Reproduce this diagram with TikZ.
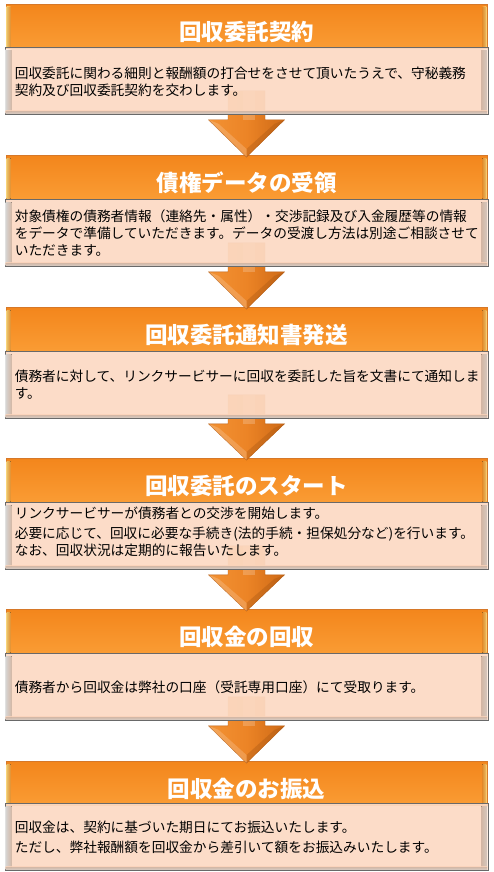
\documentclass[tikz,border=0pt]{standalone}
\usepackage{fontspec}
\setmainfont{Noto Sans CJK JP}
\usetikzlibrary{calc}
\definecolor{hdrA}{RGB}{243,134,28}
\definecolor{hdrB}{RGB}{250,156,52}
\definecolor{hdrEdge}{RGB}{214,120,40}
\definecolor{bevelY}{RGB}{255,214,120}
\definecolor{boxFill}{RGB}{252,218,196}
\definecolor{boxEdge}{RGB}{105,105,105}
\definecolor{arrL}{RGB}{242,146,52}
\definecolor{arrM}{RGB}{236,132,38}
\definecolor{arrR}{RGB}{206,106,22}
\tikzset{
  hdrbox/.style={draw=hdrEdge, line width=0.8pt, top color=hdrA, bottom color=hdrB,
    minimum width=481pt, minimum height=44pt, inner sep=0pt, anchor=north},
  bodybox/.style={draw=boxEdge, line width=0.8pt, fill=boxFill,
    minimum width=483pt, minimum height=67pt, inner sep=0pt, anchor=north},
  ttl/.style={text=white, font=\bfseries\fontsize{22.5}{25}\selectfont, inner sep=0pt},
  bodytxt/.style={font=\fontsize{13.7}{17}\selectfont, text=black, align=left,
    text width=478pt, inner sep=0pt, anchor=west},
  downarrow/.style={left color=arrL, right color=arrR, middle color=arrM, draw=arrR!90!black, line width=0.4pt},
}
\newcommand{\hdrbevel}[1]{%
  \fill[left color=bevelY, right color=hdrB, opacity=0.9]
    ($(#1.north west)+(1,3)$) rectangle ($(#1.south west)+(5,-1)$);
  \fill[right color=bevelY, left color=hdrB, opacity=0.9]
    ($(#1.north east)+(-5,3)$) rectangle ($(#1.south east)+(-1,-1)$);
}
\newcommand{\boxbevel}[1]{%
  \fill[left color=white, right color=boxFill, opacity=0.8]
    ($(#1.north west)+(1,3)$) rectangle ($(#1.south west)+(7,-3)$);
  \fill[right color=white!60!boxFill, left color=boxFill, opacity=0.8]
    ($(#1.north east)+(-7,3)$) rectangle ($(#1.south east)+(-1,-3)$);
  \fill[top color=boxFill, bottom color=white!70!boxFill, opacity=0.8]
    ($(#1.south west)+(1,-4)$) rectangle ($(#1.south east)+(-1,-1)$);
}
\newcommand{\flowarrow}[2]{%
  \path[downarrow]
    ($(#1.south)+(-18.5,-24)$) -- ($(#1.south)+(18.5,-24)$) --
    ($(#1.south)+(18.5,5)$) -- ($(#1.south)+(38,5)$) --
    ($(#2.north)+(0,2)$) --
    ($(#1.south)+(-38,5)$) -- ($(#1.south)+(-18.5,5)$) -- cycle;
  % bevel facets on the arrow head
  \fill[arrR!80!black, opacity=0.35]
    ($(#1.south)+(38,5)$) -- ($(#2.north)+(0,2)$) -- ($(#2.north)+(0,-6)$) -- ($(#1.south)+(28,9)$) -- cycle;
  \fill[white, opacity=0.18]
    ($(#1.south)+(-38,5)$) -- ($(#2.north)+(0,2)$) -- ($(#2.north)+(0,-6)$) -- ($(#1.south)+(-28,9)$) -- cycle;
  \fill[white, opacity=0.2]
    ($(#1.south)+(-4,-24)$) rectangle ($(#1.south)+(8,5)$);
}
\begin{document}
\begin{tikzpicture}[x=1pt,y=-1pt]
\useasboundingbox (0,0) rectangle (493,872);
\fill[white] (0,0) rectangle (493,872);

% headers
\node[hdrbox] (h1) at (246.5,4) {};
\node[hdrbox] (h2) at (246.5,155) {};
\node[hdrbox] (h3) at (246.5,307) {};
\node[hdrbox] (h4) at (246.5,458) {};
\node[hdrbox] (h5) at (246.5,609) {};
\node[hdrbox] (h6) at (246.5,761) {};
\hdrbevel{h1}\hdrbevel{h2}\hdrbevel{h3}\hdrbevel{h4}\hdrbevel{h5}\hdrbevel{h6}

% titles
\node[ttl] (t1) at ($(h1.north)+(0,28)$) {回収委託契約};
\node[ttl] (t2) at ($(h2.north)+(0,28)$) {債権データの受領};
\node[ttl] (t3) at ($(h3.north)+(0,28)$) {回収委託通知書発送};
\node[ttl] (t4) at ($(h4.north)+(0,28)$) {回収委託のスタート};
\node[ttl] (t5) at ($(h5.north)+(0,28)$) {回収金の回収};
\node[ttl] (t6) at ($(h6.north)+(0,28)$) {回収金のお振込};

% body box positions
\coordinate (c1) at (246.5,47);
\coordinate (c2) at (246.5,199);
\coordinate (c3) at (246.5,351);
\coordinate (c4) at (246.5,502);
\coordinate (c5) at (246.5,653);
\coordinate (c6) at (246.5,803);

% placeholders giving the arrows' start points
\path node[bodybox, draw=none, fill=none] (b1) at (c1) {}
      node[bodybox, draw=none, fill=none] (b2) at (c2) {}
      node[bodybox, draw=none, fill=none] (b3) at (c3) {}
      node[bodybox, draw=none, fill=none] (b4) at (c4) {}
      node[bodybox, draw=none, fill=none] (b5) at (c5) {};

% arrows (behind the text boxes)
\flowarrow{b1}{h2}
\flowarrow{b2}{h3}
\flowarrow{b3}{h4}
\flowarrow{b4}{h5}
\flowarrow{b5}{h6}

% body boxes
\node[bodybox, fill opacity=0.93] (B1) at (c1) {};
\node[bodybox, fill opacity=0.93] (B2) at (c2) {};
\node[bodybox, fill opacity=0.93] (B3) at (c3) {};
\node[bodybox, fill opacity=0.93] (B4) at (c4) {};
\node[bodybox, fill opacity=0.93] (B5) at (c5) {};
\node[bodybox, fill opacity=0.93] (B6) at (c6) {};
\boxbevel{B1}\boxbevel{B2}\boxbevel{B3}\boxbevel{B4}\boxbevel{B5}\boxbevel{B6}

% body texts
\node[bodytxt] (x1) at ($(B1.west)+(10,1)$)
  {回収委託に関わる細則と報酬額の打合せをさせて頂いたうえで、守秘義務\\契約及び回収委託契約を交わします。};
\node[bodytxt] (x2) at ($(B2.west)+(10,0)$)
  {対象債権の債務者情報（連絡先・属性）・交渉記録及び入金履歴等の情報\\をデータで準備していただきます。データの受渡し方法は別途ご相談させて\\いただきます。};
\node[bodytxt] (x3) at ($(B3.west)+(10,0)$)
  {債務者に対して、リンクサービサーに回収を委託した旨を文書にて通知しま\\す。};
\node[bodytxt] (x4) at ($(B4.west)+(10,-4)$)
  {リンクサービサーが債務者との交渉を開始します。\\[3pt]必要に応じて、回収に必要な手続き(法的手続・担保処分など)を行います。\\なお、回収状況は定期的に報告いたします。};
\node[bodytxt] (x5) at ($(B5.west)+(10,0)$)
  {債務者から回収金は弊社の口座（受託専用口座）にて受取ります。};
\node[bodytxt] (x6) at ($(B6.west)+(10,0)$)
  {回収金は、契約に基づいた期日にてお振込いたします。\\[3pt]ただし、弊社報酬額を回収金から差引いて額をお振込みいたします。};
\end{tikzpicture}
\end{document}
